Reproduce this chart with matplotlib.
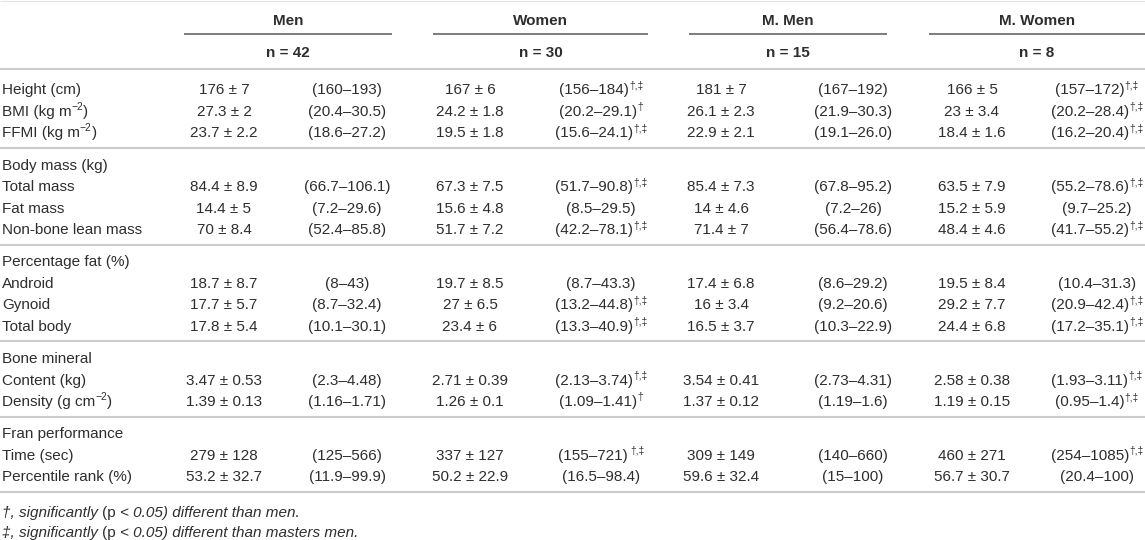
import matplotlib
matplotlib.use("Agg")
import matplotlib.pyplot as plt

plt.rcParams['font.family'] = ['Liberation Sans', 'DejaVu Sans']

# ---------------- data ----------------
group_titles = ["", "Body mass (kg)", "Percentage fat (%)", "Bone mineral", "Fran performance"]
group_rows = [
    ["Height (cm)", "BMI (kg m^{−2})", "FFMI (kg m^{−2})"],
    ["Total mass", "Fat mass", "Non-bone lean mass"],
    ["Android", "Gynoid", "Total body"],
    ["Content (kg)", "Density (g cm^{−2})"],
    ["Time (sec)", "Percentile rank (%)"],
]

col_groups = ["Men", "Women", "M. Men", "M. Women"]
col_n = [42, 30, 15, 8]

men_mean = [176, 27.3, 23.7, 84.4, 14.4, 70, 18.7, 17.7, 17.8, 3.47, 1.39, 279, 53.2]
men_sd = [7, 2, 2.2, 8.9, 5, 8.4, 8.7, 5.7, 5.4, 0.53, 0.13, 128, 32.7]
men_range = ["160–193", "20.4–30.5", "18.6–27.2", "66.7–106.1", "7.2–29.6", "52.4–85.8",
             "8–43", "8.7–32.4", "10.1–30.1", "2.3–4.48", "1.16–1.71", "125–566", "11.9–99.9"]
men_sig = [""] * 13

women_mean = [167, 24.2, 19.5, 67.3, 15.6, 51.7, 19.7, 27, 23.4, 2.71, 1.26, 337, 50.2]
women_sd = [6, 1.8, 1.8, 7.5, 4.8, 7.2, 8.5, 6.5, 6, 0.39, 0.1, 127, 22.9]
women_range = ["156–184", "20.2–29.1", "15.6–24.1", "51.7–90.8", "8.5–29.5", "42.2–78.1",
               "8.7–43.3", "13.2–44.8", "13.3–40.9", "2.13–3.74", "1.09–1.41", "155–721", "16.5–98.4"]
women_sig = ["†,‡", "†", "†,‡", "†,‡", "", "†,‡", "", "†,‡", "†,‡", "†,‡", "†", " †,‡", ""]

mmen_mean = [181, 26.1, 22.9, 85.4, 14, 71.4, 17.4, 16, 16.5, 3.54, 1.37, 309, 59.6]
mmen_sd = [7, 2.3, 2.1, 7.3, 4.6, 7, 6.8, 3.4, 3.7, 0.41, 0.12, 149, 32.4]
mmen_range = ["167–192", "21.9–30.3", "19.1–26.0", "67.8–95.2", "7.2–26", "56.4–78.6",
              "8.6–29.2", "9.2–20.6", "10.3–22.9", "2.73–4.31", "1.19–1.6", "140–660", "15–100"]
mmen_sig = [""] * 13

mwomen_mean = [166, 23, 18.4, 63.5, 15.2, 48.4, 19.5, 29.2, 24.4, 2.58, 1.19, 460, 56.7]
mwomen_sd = [5, 3.4, 1.6, 7.9, 5.9, 4.6, 8.4, 7.7, 6.8, 0.38, 0.15, 271, 30.7]
mwomen_range = ["157–172", "20.2–28.4", "16.2–20.4", "55.2–78.6", "9.7–25.2", "41.7–55.2",
                "10.4–31.3", "20.9–42.4", "17.2–35.1", "1.93–3.11", "0.95–1.4", "254–1085", "20.4–100"]
mwomen_sig = ["†,‡", "†,‡", "†,‡", "†,‡", "", "†,‡", "", "†,‡", "†,‡", "†,‡", "†,‡", "†,‡", ""]

footnotes = [("†", "men."), ("‡", "masters men.")]

# ---------------- layout ----------------
W, H = 1145, 540
TEXT = '#2e2e2e'
FS = 11.0
SUP = 7.4
LABEL_X = 2
MEAN_X = [224, 470, 721, 972]
RANGE_X = [347, 601, 853, 1097]
HEAD_SPAN = [(184, 392), (433, 648), (689, 887), (929, 1145)]
Y_HEAD1, Y_ULINE, Y_HEAD2, Y_HRULE = 20, 33.5, 51.5, 69
Y0, PITCH, GAP, RULE_OFF = 89, 21.5, 10.75, 15.8
BASE = 5.4       # baseline offset below visual centre
SUP_RAISE = 6.0
FOOT_Y = [512, 532]

fig = plt.figure(figsize=(W / 100, H / 100), dpi=100)
ax = fig.add_axes([0, 0, 1, 1])
ax.set_xlim(0, W)
ax.set_ylim(H, 0)
ax.axis('off')
renderer = fig.canvas.get_renderer()


def twidth(s, **kw):
    if not s:
        return 0.0
    t = ax.text(0, 0, s, **kw)
    w = t.get_window_extent(renderer).width
    t.remove()
    return w


def space_w(**kw):
    return twidth("x x", **kw) - twidth("xx", **kw)


def draw_runs(x, yc, runs, ha='left'):
    """runs: list of (text, props, raise_px). yc = visual centre of main text."""
    meas = []
    for s, kw, dy in runs:
        core = s.strip(' ')
        lead = len(s) - len(s.lstrip(' '))
        trail = len(s) - len(s.rstrip(' '))
        sw = space_w(**kw) if (lead or trail) else 0.0
        meas.append((lead * sw, twidth(core, **kw), trail * sw, core))
    total = sum(a + b + c for a, b, c, _ in meas)
    cx = x - total / 2 if ha == 'center' else x
    base = yc + BASE
    for (s, kw, dy), (a, b, c, core) in zip(runs, meas):
        cx += a
        if core:
            ax.text(cx, base - dy, core, ha='left', va='baseline', **kw)
        cx += b + c


N = dict(fontsize=FS, color=TEXT)
B = dict(fontsize=FS, color=TEXT, fontweight='bold')
I = dict(fontsize=FS, color=TEXT, fontstyle='italic')
S = dict(fontsize=SUP, color=TEXT)


def label_runs(lbl):
    if "^{" in lbl:
        pre, rest = lbl.split("^{", 1)
        sup, post = rest.split("}", 1)
        return [(pre, N, 0), (sup, S, SUP_RAISE), (post, N, 0)]
    return [(lbl, N, 0)]


def fmt(v):
    return f"{v:g}"


# top faint line
ax.hlines(0.5, 0, W, color='#e4e4e4', lw=0.8)

# column headers
for name, n, (x0, x1) in zip(col_groups, col_n, HEAD_SPAN):
    xc = (x0 + x1) / 2
    draw_runs(xc, Y_HEAD1, [(name, B, 0)], ha='center')
    draw_runs(xc, Y_HEAD2, [(f"n = {n}", B, 0)], ha='center')
    ax.hlines(Y_ULINE, x0, x1, color='#5a5a5a', lw=1.1)
ax.hlines(Y_HRULE, 0, W, color='#cccccc', lw=1.5)

cols = [
    (men_mean, men_sd, men_range, men_sig),
    (women_mean, women_sd, women_range, women_sig),
    (mmen_mean, mmen_sd, mmen_range, mmen_sig),
    (mwomen_mean, mwomen_sd, mwomen_range, mwomen_sig),
]

i = 0      # visual row index
k = 0      # data row index
for g, (title, rows) in enumerate(zip(group_titles, group_rows)):
    if title:
        y = Y0 + i * PITCH + g * GAP
        draw_runs(LABEL_X, y, [(title, N, 0)])
        i += 1
    for lbl in rows:
        y = Y0 + i * PITCH + g * GAP
        draw_runs(LABEL_X, y, label_runs(lbl))
        for c, (mean, sd, rng, sig) in enumerate(cols):
            draw_runs(MEAN_X[c], y, [(f"{fmt(mean[k])} ± {fmt(sd[k])}", N, 0)], ha='center')
            runs = [(f"({rng[k]})", N, 0)]
            if sig[k]:
                runs.append((sig[k], S, SUP_RAISE))
            draw_runs(RANGE_X[c], y, runs, ha='center')
        i += 1
        k += 1
    y_last = Y0 + (i - 1) * PITCH + g * GAP
    ax.hlines(y_last + RULE_OFF, 0, W, color='#cccccc', lw=1.5)

# footnotes
for (sym, who), fy in zip(footnotes, FOOT_Y):
    draw_runs(LABEL_X, fy, [(f"{sym}, significantly ", I, 0), ("(p", N, 0),
                            (f" < 0.05) different than {who}", I, 0)])

fig.savefig("out.png", dpi=100, facecolor='white')
